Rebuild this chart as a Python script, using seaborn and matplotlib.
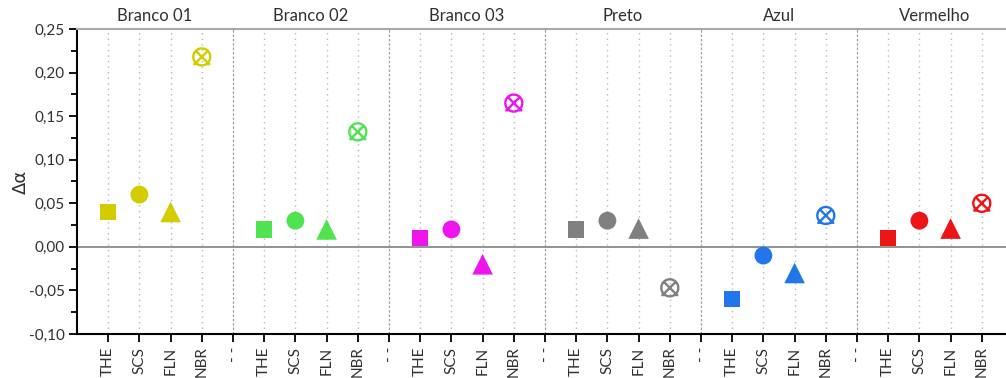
import numpy as np
import pandas as pd
import matplotlib
matplotlib.use("Agg")
import matplotlib.pyplot as plt
from matplotlib.path import Path
from matplotlib.markers import MarkerStyle
from matplotlib.ticker import MultipleLocator, FuncFormatter
import seaborn as sns

# --- data -------------------------------------------------------------
groups = ["Branco 01", "Branco 02", "Branco 03", "Preto", "Azul", "Vermelho"]
methods = ["THE", "SCS", "FLN", "NBR"]
colors = ["#d2cc00", "#4fe34f", "#ee14ee", "#808080", "#2176ec", "#ec1414"]

the_vals = [0.040, 0.020, 0.010, 0.020, -0.060, 0.010]
scs_vals = [0.060, 0.030, 0.020, 0.030, -0.010, 0.030]
fln_vals = [0.040, 0.020, -0.020, 0.021, -0.030, 0.021]
nbr_vals = [0.218, 0.132, 0.165, -0.047, 0.036, 0.050]

sep_label = "- -"

# --- long-form table with category positions ---------------------------
values = {"THE": the_vals, "SCS": scs_vals, "FLN": fln_vals, "NBR": nbr_vals}
rows = []
labels = []
for gi, g in enumerate(groups):
    for mi, m in enumerate(methods):
        rows.append({"group": g, "method": m, "pos": gi * 5 + mi,
                     "value": values[m][gi]})
    labels += methods
    if gi < len(groups) - 1:
        labels.append(sep_label)
df = pd.DataFrame(rows)
positions = np.arange(len(labels))
separators = [i for i, l in enumerate(labels) if l == sep_label]

# --- marker for NBR: circle with a cross -------------------------------
t = np.linspace(0, 2 * np.pi, 60)
circ = np.column_stack([np.cos(t), np.sin(t)])
d = 0.72
verts = list(circ) + [(-d, -d), (d, d), (-d, d), (d, -d),
                      (-1.0, -0.85), (-0.6, -0.85), (0.6, -0.85), (1.0, -0.85)]
codes = ([Path.MOVETO] + [Path.LINETO] * (len(circ) - 1)
         + [Path.MOVETO, Path.LINETO, Path.MOVETO, Path.LINETO,
            Path.MOVETO, Path.LINETO, Path.MOVETO, Path.LINETO])
nbr_marker = MarkerStyle(Path(verts, codes), fillstyle="none")

# --- figure -------------------------------------------------------------
sns.set_style("white")
plt.rcParams["font.family"] = ["Lato", "DejaVu Sans"]
text_color = "#303030"

fig = plt.figure(figsize=(10.06, 3.78), dpi=100)
ax = fig.add_axes([77 / 1006, 44 / 378, 936 / 1006, 305 / 378])

# grid lines at every category position
for p in positions:
    if p in separators:
        ax.axvline(p, color="#a0a0a0", lw=0.9, ls=(0, (2, 1.5)), zorder=0)
    else:
        ax.axvline(p, color="#b8b8b8", lw=1.0, ls=(0, (1, 3)), zorder=0)
ax.axhline(0, color="#8a8a8a", lw=1.3, zorder=1)

palette = dict(zip(groups, colors))
filled = {"THE": ("s", 140), "SCS": ("o", 165), "FLN": ("^", 220)}
for m, (mk, size) in filled.items():
    sub = df[df["method"] == m]
    sns.scatterplot(data=sub, x="pos", y="value", hue="group", palette=palette,
                    marker=mk, s=size, linewidth=0, legend=False, ax=ax, zorder=3)

for g, c in zip(groups, colors):
    sub = df[(df["method"] == "NBR") & (df["group"] == g)]
    sns.scatterplot(data=sub, x="pos", y="value", color=c, marker=nbr_marker,
                    s=150, linewidth=1.7, legend=False, ax=ax, zorder=3)

ax.set_xlim(-1, len(labels))
ax.set_ylim(-0.10, 0.25)
ax.set_xticks(positions)
ax.set_xticklabels(labels, rotation=90, fontsize=11, color=text_color)
ax.yaxis.set_major_locator(MultipleLocator(0.05))
ax.yaxis.set_minor_locator(MultipleLocator(0.025))
ax.yaxis.set_major_formatter(FuncFormatter(
    lambda v, _: f"{v:.2f}".replace(".", ",").replace("-0,00", "0,00")))
ax.tick_params(axis="y", which="major", direction="out", length=6, width=1.3,
               color="black", labelsize=11, labelcolor=text_color, left=True, pad=3)
ax.tick_params(axis="y", which="minor", direction="out", length=4, width=1.3,
               color="black", left=True)
ax.tick_params(axis="x", direction="out", length=6, width=1.3, color="black",
               bottom=True, pad=3)
ax.set_xlabel("")
ax.set_ylabel("Δα", fontsize=13, family=["DejaVu Sans"], color=text_color)
ax.yaxis.set_label_coords(-0.050, 0.5)

for s in ["left", "bottom"]:
    ax.spines[s].set_color("black")
    ax.spines[s].set_linewidth(1.5)
ax.spines["top"].set_color("#a8a8a8")
ax.spines["top"].set_linewidth(1.5)
ax.spines["right"].set_visible(False)

for gi, g in enumerate(groups):
    ax.text(gi * 5 + 1.5, 1.015, g, transform=ax.get_xaxis_transform(),
            ha="center", va="bottom", fontsize=12, color=text_color)

fig.savefig("out.png", dpi=100)
